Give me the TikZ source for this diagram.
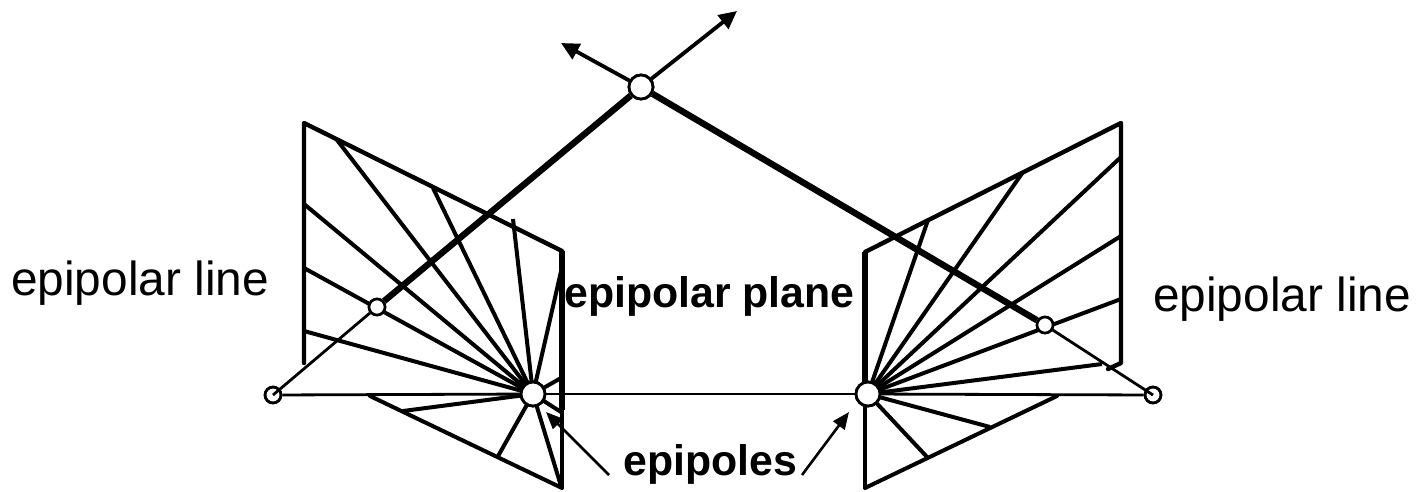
\documentclass[tikz,border=0pt]{standalone}
\usepackage{fontspec}
\setmainfont{Liberation Sans}
\usetikzlibrary{arrows.meta}
\tikzset{
  edge/.style={line width=4.4pt,line cap=round,line join=round},
  ray/.style={line width=4pt},
  sight/.style={line width=6.4pt},
  thinl/.style={line width=2.8pt},
  lowedge/.style={line width=3.4pt},
  tip/.style={line width=3.8pt,-{Triangle[length=18pt,width=17pt]}},
  tipb/.style={line width=2.6pt,-{Triangle[length=17pt,width=14pt]}},
  bigc/.style={circle,draw,fill=white,line width=2.8pt,minimum size=24pt,inner sep=0pt},
  smallc/.style={circle,draw,fill=white,line width=2.6pt,minimum size=16pt,inner sep=0pt},
  lab/.style={inner sep=0pt,font=\fontsize{47.8}{52}\selectfont},
  blab/.style={inner sep=0pt,font=\fontsize{42.8}{46}\selectfont\bfseries},
}
\begin{document}
\begin{tikzpicture}[x=1pt,y=-1pt]
\useasboundingbox (0,0) rectangle (1416,491);
% left plane
\coordinate (la) at (304,123);
\coordinate (lb) at (562,251);
\coordinate (lc) at (562,410);
\coordinate (ld) at (562,488);
\coordinate (le) at (370,396);
\coordinate (lf) at (304,363);
% right plane
\coordinate (ra) at (1121,123);
\coordinate (rb) at (865,252);
\coordinate (rc) at (865,394);
\coordinate (rd) at (865,488);
\coordinate (re) at (1057,396);
\coordinate (rf) at (1121,363);
\coordinate (rg) at (1108,369);
% nodes
\node[bigc] (el) at (533,394) {};
\node[bigc] (er) at (868,394) {};
\node[bigc] (x) at (641,87) {};
\node[smallc] (cl) at (273,395) {};
\node[smallc] (cr) at (1153,395) {};
\node[smallc] (pl) at (377,307) {};
\node[smallc] (pr) at (1045,325) {};
\coordinate (ul) at (561,43);
\coordinate (ur) at (737,11);
% left epipolar lines
\foreach \p in {(337,140),(433,188),(513,219),(562,267),(304,204),(304,268),(304,331),(561,378),(561,412),(561,486),(497,458),(403,411)}
  \draw[ray] (el.center) -- \p;
% right epipolar lines
\foreach \p in {(1121,157),(1121,236),(1121,299),(1102,364),(1023,172),(928,220),(990,427),(928,458)}
  \draw[ray] (er.center) -- \p;
% plane outlines
\draw[edge] (lf) -- (la) -- (lb);
\draw[line width=6pt] (lb) -- (lc);
\draw[lowedge] (lc) -- (ld);
\draw[edge,line width=4pt] (ld) -- (le);
\draw[edge] (rg) -- (rf) -- (ra) -- (rb) -- (rc);
\draw[line width=6pt] (rb) -- (rc);
\draw[lowedge] (rc) -- (rd);
\draw[edge,line width=4pt] (rd) -- (re);
% baseline and rays
\draw[thinl] (cl) -- (el);
\draw[thinl] (el) -- (er);
\draw[thinl] (er) -- (cr);
\draw[thinl] (cl.center) -- (pl);
\draw[thinl] (cr.center) -- (pr);
\draw[sight] (pl) -- (x);
\draw[sight] (pr) -- (x);
\draw[tip] (x) -- (ul);
\draw[tip] (x) -- (ur);
% circles on top
\node[bigc] at (el.center) {};
\node[bigc] at (er.center) {};
\node[bigc] at (x.center) {};
\node[smallc] at (pl.center) {};
\node[smallc] at (pr.center) {};
\node[smallc,fill=none] at (cl.center) {};
\node[smallc,fill=none] at (cr.center) {};
% labels
\node[lab,anchor=base west] (t1) at (11,295) {epipolar line};
\node[lab,anchor=base west] (t2) at (1153,311) {epipolar line};
\node[blab,anchor=base west] (t3) at (564,307) {epipolar plane};
\node[blab,anchor=base] (t4) at (710.5,475) {epipoles};
\coordinate (tl) at (609,475);
\coordinate (tr) at (802,475);
\draw[tipb] (tl) -- (546,412);
\draw[tipb] (tr) -- (849,412);
\end{tikzpicture}
\end{document}
